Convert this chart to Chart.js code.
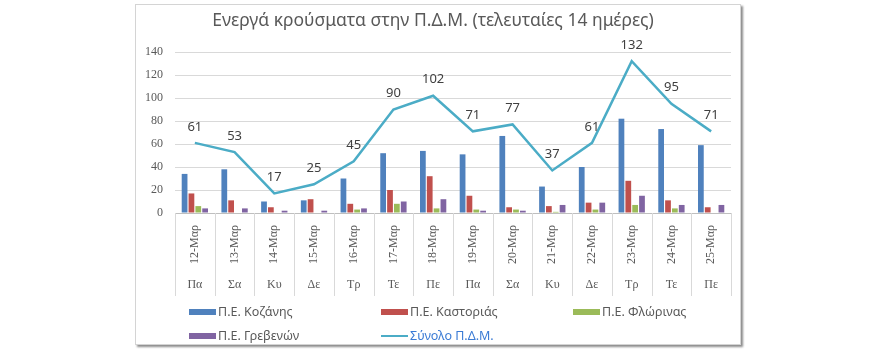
<!DOCTYPE html>
<html>
<head>
<meta charset="utf-8">
<script src="https://cdn.jsdelivr.net/npm/chart.js@4.4.0/dist/chart.umd.min.js"></script>
<style>
  html, body { margin: 0; padding: 0; background: #fff; }
  #wrap { position: relative; width: 880px; height: 350px; }
  #frame {
    position: absolute; left: 135px; top: 4px; width: 604px; height: 339px;
    border: 1px solid #d4d4d4; box-shadow: 2px 2px 2px #8c8c8c; background: #fff;
  }
  #graph { position: absolute; left: 0; top: 0; }
</style>
</head>
<body>
<div id="wrap">
  <div id="frame"></div>
  <canvas id="graph" width="880" height="350"></canvas>
</div>
<script>
const dates = ['12-Μαρ', '13-Μαρ', '14-Μαρ', '15-Μαρ', '16-Μαρ', '17-Μαρ', '18-Μαρ',
  '19-Μαρ', '20-Μαρ', '21-Μαρ', '22-Μαρ', '23-Μαρ', '24-Μαρ', '25-Μαρ'];
const weekdays = ['Πα', 'Σα', 'Κυ', 'Δε', 'Τρ', 'Τε', 'Πε', 'Πα', 'Σα', 'Κυ', 'Δε', 'Τρ', 'Τε', 'Πε'];

const kozani   = [34, 38, 10, 11, 30, 52, 54, 51, 67, 23, 40, 82, 73, 59];
const kastoria = [17, 11, 5, 12, 8, 20, 32, 15, 5, 6, 9, 28, 11, 5];
const florina  = [6, 0, 0, 0, 3, 8, 4, 3, 3, 1, 3, 7, 4, 0];
const grevena  = [4, 4, 2, 2, 4, 10, 12, 2, 2, 7, 9, 15, 7, 7];
const total    = [61, 53, 17, 25, 45, 90, 102, 71, 77, 37, 61, 132, 95, 71];

const labelColor = '#595959';
const gridColor = '#d9d9d9';

// value labels above the total line
const lineLabels = {
  id: 'lineLabels',
  afterDatasetsDraw(chart) {
    const ctx = chart.ctx;
    const meta = chart.getDatasetMeta(4);
    ctx.save();
    ctx.font = '13px "Noto Sans"';
    ctx.fillStyle = '#404040';
    ctx.textAlign = 'center';
    ctx.textBaseline = 'middle';
    meta.data.forEach((pt, i) => {
      ctx.fillText(total[i], pt.x, pt.y - 16);
    });
    ctx.restore();
  }
};

// category separators through both label rows
const separators = {
  id: 'separators',
  afterDraw(chart) {
    const xs = chart.scales.x;
    const x2 = chart.scales.x2;
    const half = (xs.getPixelForValue(1) - xs.getPixelForValue(0)) / 2;
    const ctx = chart.ctx;
    ctx.save();
    ctx.strokeStyle = gridColor;
    ctx.lineWidth = 1;
    for (let i = 0; i <= dates.length; i++) {
      const x = Math.round(xs.getPixelForValue(0) - half + i * half * 2) + 0.5;
      ctx.beginPath();
      ctx.moveTo(x, chart.chartArea.bottom);
      ctx.lineTo(x, x2.bottom - 2);
      ctx.stroke();
    }
    ctx.restore();
  }
};

// legend laid out in a fixed grid, like the spreadsheet one
const gridLegend = {
  id: 'gridLegend',
  afterDraw(chart) {
    const ctx = chart.ctx;
    const cols = [189, 381, 573];
    const rows = [312, 336];
    ctx.save();
    ctx.font = '12.5px "Noto Sans"';
    ctx.textBaseline = 'middle';
    ctx.textAlign = 'left';
    chart.data.datasets.forEach((ds, i) => {
      const x = cols[i % 3];
      const y = rows[Math.floor(i / 3)];
      if (ds.type === 'line') {
        ctx.strokeStyle = ds.borderColor;
        ctx.lineWidth = 2;
        ctx.beginPath();
        ctx.moveTo(x, y);
        ctx.lineTo(x + 27, y);
        ctx.stroke();
        ctx.fillStyle = '#3a7bd5';
      } else {
        ctx.fillStyle = ds.backgroundColor;
        ctx.fillRect(x, y - 3, 27, 6);
        ctx.fillStyle = labelColor;
      }
      ctx.fillText(ds.label, x + 29, y);
    });
    ctx.restore();
  }
};

new Chart(document.getElementById('graph').getContext('2d'), {
  data: {
    labels: dates,
    datasets: [
      { type: 'bar', label: 'Π.Ε. Κοζάνης', data: kozani, backgroundColor: '#4f81bd', order: 1 },
      { type: 'bar', label: 'Π.Ε. Καστοριάς', data: kastoria, backgroundColor: '#c0504d', order: 1 },
      { type: 'bar', label: 'Π.Ε. Φλώρινας', data: florina, backgroundColor: '#9bbb59', order: 1 },
      { type: 'bar', label: 'Π.Ε. Γρεβενών', data: grevena, backgroundColor: '#8064a2', order: 1 },
      {
        type: 'line', label: 'Σύνολο Π.Δ.Μ.', data: total, borderColor: '#4bacc6',
        backgroundColor: '#4bacc6', borderWidth: 2.5, pointRadius: 0, tension: 0, order: 0
      }
    ]
  },
  options: {
    responsive: false,
    animation: false,
    datasets: { bar: { categoryPercentage: 0.69, barPercentage: 0.84 } },
    layout: { padding: { left: 135, right: 149, top: 0, bottom: 52 } },
    plugins: {
      legend: { display: false },
      tooltip: { enabled: false },
      title: {
        display: true,
        text: 'Ενεργά κρούσματα στην Π.Δ.Μ. (τελευταίες 14 ημέρες)',
        color: labelColor,
        font: { family: 'Noto Sans', size: 17.5, weight: 'normal' },
        padding: { top: 11, bottom: 20 }
      }
    },
    scales: {
      y: {
        min: 0, max: 140,
        ticks: { stepSize: 20, color: labelColor, padding: 12, font: { family: 'Liberation Serif', size: 12 } },
        grid: { color: gridColor, drawTicks: false },
        border: { display: false },
        afterFit(scale) { scale.width = 40; }
      },
      x: {
        weight: 0,
        offset: true,
        ticks: {
          minRotation: 90, maxRotation: 90, autoSkip: false, padding: 12,
          color: labelColor, font: { family: 'Liberation Serif', size: 12 }
        },
        grid: { display: false, drawTicks: false },
        border: { display: true, color: '#bfbfbf' },
        afterFit(scale) { scale.height = 60; }
      },
      x2: {
        type: 'category',
        position: 'bottom',
        weight: 1,
        labels: weekdays,
        offset: true,
        ticks: { autoSkip: false, padding: 5, color: labelColor, font: { family: 'Liberation Serif', size: 12 } },
        grid: { display: false, drawTicks: false },
        border: { display: false },
        afterFit(scale) { scale.height = 25; }
      }
    }
  },
  plugins: [lineLabels, separators, gridLegend]
});
</script>
</body>
</html>
